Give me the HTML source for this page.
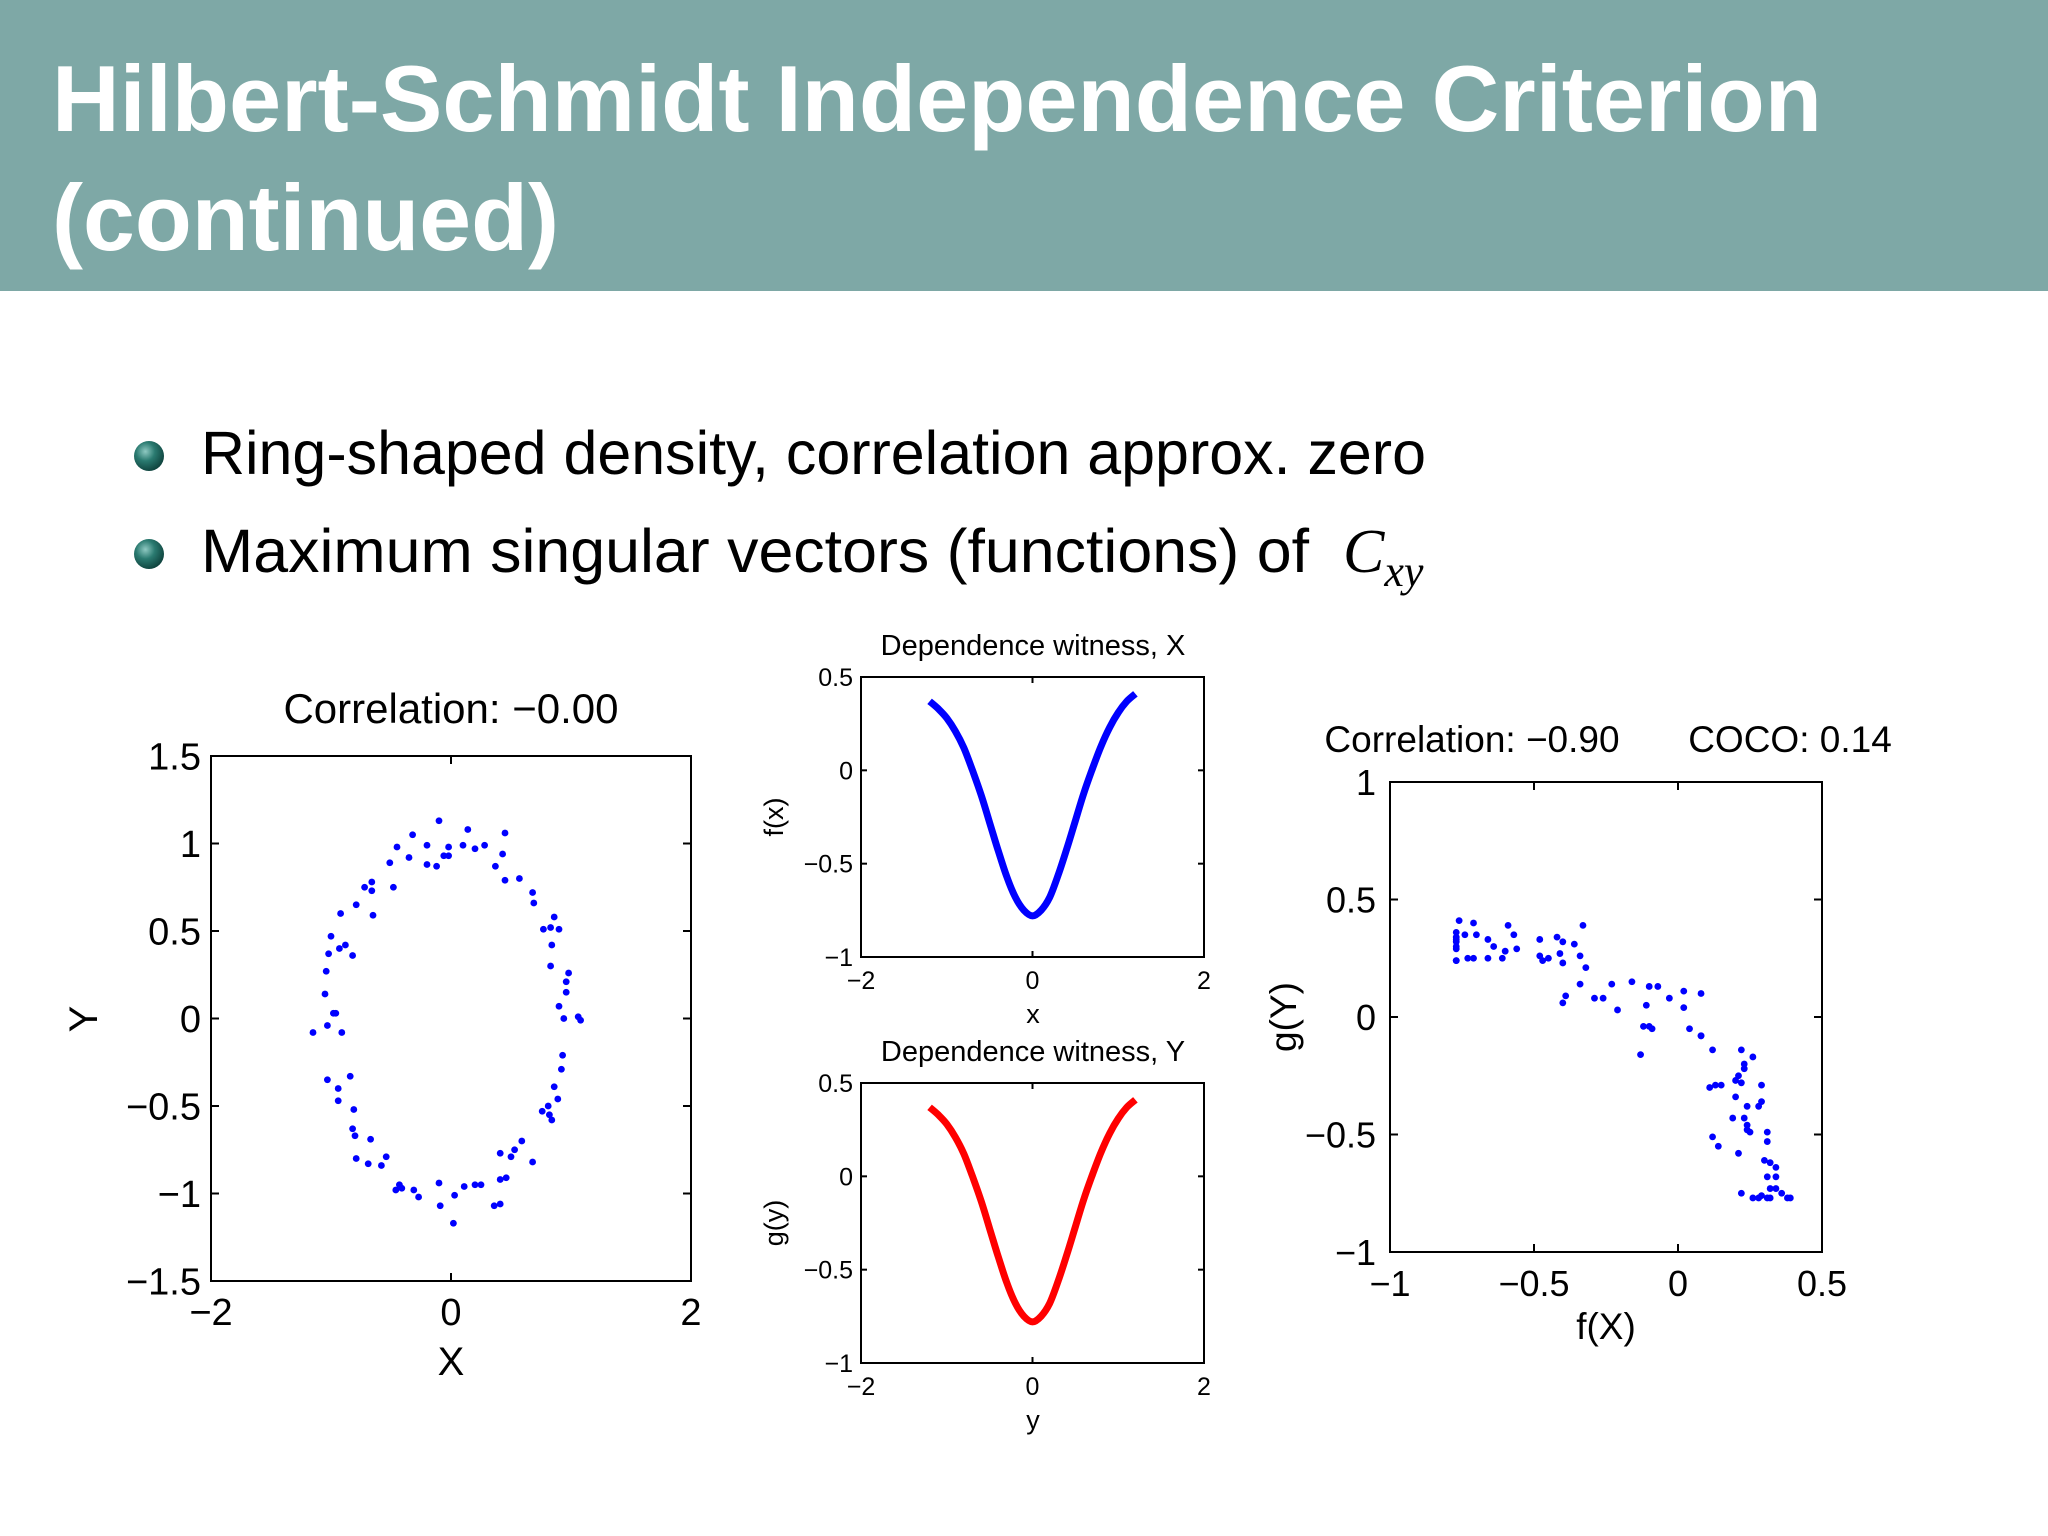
<!DOCTYPE html>
<html><head><meta charset="utf-8"><style>
html,body{margin:0;padding:0;background:#fff;}
svg{display:block;}
text{font-family:"Liberation Sans",sans-serif;}
</style></head><body>
<svg id="root" width="2048" height="1536" viewBox="0 0 2048 1536" xmlns="http://www.w3.org/2000/svg">
<defs>
<radialGradient id="ball" cx="0.38" cy="0.35" r="0.7">
<stop offset="0" stop-color="#8fc9c2"/><stop offset="0.45" stop-color="#2a7a70"/><stop offset="1" stop-color="#0d3f3a"/>
</radialGradient>
</defs>
<rect x="0" y="0" width="2048" height="291" fill="#7ea8a6"/>
<text x="52" y="131" font-size="94" font-weight="bold" fill="#fff" textLength="1770" lengthAdjust="spacingAndGlyphs">Hilbert-Schmidt Independence Criterion</text>
<text x="52" y="250" font-size="94" font-weight="bold" fill="#fff" textLength="507" lengthAdjust="spacingAndGlyphs">(continued)</text>
<circle cx="149" cy="456" r="15" fill="url(#ball)"/>
<text x="201" y="474" font-size="61" fill="#000" textLength="1225" lengthAdjust="spacingAndGlyphs">Ring-shaped density, correlation approx. zero</text>
<circle cx="149" cy="554" r="15" fill="url(#ball)"/>
<text x="201" y="572" font-size="61" fill="#000" textLength="1108" lengthAdjust="spacingAndGlyphs">Maximum singular vectors (functions) of</text>
<text x="1343" y="572" font-size="62" font-style="italic" fill="#000" style="font-family:'Liberation Serif',serif">C<tspan font-size="44" dy="14">xy</tspan></text>
<g id="charts"></g>
</svg>
<script>
// ---- data ----
const ringX = [-0.10,0.14,0.45,-0.32,-0.20,-0.45,-0.02,0.10,0.20,0.28,-0.35,-0.51,-0.20,-0.12,-0.06,-0.02,0.43,0.37,0.45,0.57,-0.72,-0.66,-0.66,-0.48,0.68,0.69,-0.79,-0.92,-0.65,0.86,0.77,0.83,0.90,-1.00,-0.93,-0.88,-1.02,-0.82,0.84,0.83,-1.04,0.98,0.96,0.96,-1.05,-0.98,-0.96,0.90,0.94,1.06,1.08,-1.15,-1.03,-0.91,0.93,0.92,-1.03,-0.84,-0.94,0.86,-0.94,0.89,-0.81,0.76,0.81,0.82,0.84,-0.82,-0.80,-0.67,0.59,0.53,0.50,0.41,-0.79,-0.69,-0.58,-0.54,0.68,-0.10,-0.43,-0.46,-0.41,-0.31,-0.27,0.11,0.20,0.25,0.41,0.46,0.03,-0.09,0.36,0.41,0.02];
const ringY = [1.13,1.08,1.06,1.05,0.99,0.98,0.98,0.99,0.97,0.99,0.92,0.89,0.88,0.87,0.93,0.93,0.94,0.87,0.79,0.80,0.75,0.78,0.73,0.75,0.72,0.66,0.65,0.60,0.59,0.58,0.51,0.52,0.51,0.47,0.40,0.42,0.37,0.36,0.42,0.30,0.27,0.26,0.21,0.15,0.14,0.03,0.03,0.07,0.00,0.01,-0.01,-0.08,-0.04,-0.08,-0.21,-0.29,-0.35,-0.33,-0.40,-0.39,-0.47,-0.46,-0.52,-0.53,-0.50,-0.55,-0.58,-0.63,-0.67,-0.69,-0.70,-0.75,-0.79,-0.77,-0.80,-0.83,-0.84,-0.79,-0.82,-0.94,-0.95,-0.98,-0.97,-0.98,-1.02,-0.96,-0.95,-0.95,-0.92,-0.91,-1.01,-1.07,-1.07,-1.06,-1.17];
const fX = [-0.76,-0.71,-0.77,-0.77,-0.77,-0.77,-0.77,-0.77,-0.77,-0.77,-0.74,-0.70,-0.73,-0.71,-0.66,-0.66,-0.64,-0.59,-0.57,-0.60,-0.61,-0.56,-0.48,-0.48,-0.47,-0.45,-0.42,-0.40,-0.41,-0.40,-0.36,-0.34,-0.33,-0.32,-0.34,-0.39,-0.40,-0.29,-0.26,-0.23,-0.21,-0.16,-0.10,-0.07,-0.11,-0.03,0.02,0.02,0.08,-0.12,-0.10,-0.09,-0.13,0.04,0.08,0.08,0.12,0.22,0.26,0.23,0.23,0.21,0.20,0.22,0.11,0.13,0.15,0.29,0.20,0.29,0.28,0.24,0.19,0.23,0.24,0.24,0.25,0.12,0.14,0.31,0.31,0.21,0.30,0.32,0.34,0.31,0.34,0.32,0.34,0.22,0.26,0.28,0.29,0.31,0.32,0.36,0.38,0.39];
const gY = [0.41,0.40,0.36,0.34,0.33,0.32,0.30,0.29,0.24,0.24,0.35,0.35,0.25,0.25,0.25,0.33,0.30,0.39,0.35,0.28,0.25,0.29,0.33,0.26,0.24,0.25,0.34,0.32,0.27,0.23,0.31,0.26,0.39,0.21,0.14,0.09,0.06,0.08,0.08,0.14,0.03,0.15,0.13,0.13,0.05,0.08,0.11,0.04,0.10,-0.04,-0.04,-0.05,-0.16,-0.05,-0.08,-0.08,-0.14,-0.14,-0.17,-0.20,-0.22,-0.25,-0.27,-0.28,-0.30,-0.29,-0.29,-0.29,-0.34,-0.36,-0.38,-0.38,-0.43,-0.43,-0.46,-0.48,-0.49,-0.51,-0.55,-0.49,-0.53,-0.58,-0.61,-0.62,-0.64,-0.68,-0.68,-0.73,-0.73,-0.75,-0.77,-0.77,-0.76,-0.77,-0.77,-0.75,-0.77,-0.77];
const witX = [-1.2,-1.1,-1.0,-0.9,-0.8,-0.7,-0.6,-0.5,-0.4,-0.3,-0.2,-0.1,0,0.1,0.2,0.3,0.4,0.5,0.6,0.7,0.8,0.9,1.0,1.1,1.2];
const witF = [0.37,0.33,0.28,0.21,0.12,0.00,-0.13,-0.28,-0.43,-0.57,-0.68,-0.75,-0.78,-0.75,-0.68,-0.56,-0.42,-0.27,-0.12,0.01,0.13,0.23,0.31,0.37,0.41];
const witG = [0.37,0.33,0.28,0.21,0.12,0.00,-0.13,-0.28,-0.43,-0.57,-0.68,-0.75,-0.78,-0.75,-0.68,-0.56,-0.42,-0.27,-0.12,0.01,0.13,0.23,0.31,0.37,0.41];
const ringXTicks = [-2,0,2];
const ringXTickLabels = ["−2","0","2"];
const ringYTicks = [-1.5,-1,-0.5,0,0.5,1,1.5];
const ringYTickLabels = ["−1.5","−1","−0.5","0","0.5","1","1.5"];
const witXTicks = [-2,0,2];
const witXTickLabels = ["−2","0","2"];
const witYTicks = [-1,-0.5,0,0.5];
const witYTickLabels = ["−1","−0.5","0","0.5"];
const fgXTicks = [-1,-0.5,0,0.5];
const fgXTickLabels = ["−1","−0.5","0","0.5"];
const fgYTicks = [-1,-0.5,0,0.5,1];
const fgYTickLabels = ["−1","−0.5","0","0.5","1"];

const NS = "http://www.w3.org/2000/svg";
const root = document.getElementById('charts');
function el(tag, attrs, parent){ const e=document.createElementNS(NS,tag); for(const k in attrs) e.setAttribute(k,attrs[k]); (parent||root).appendChild(e); return e; }

function makeAxes(cfg){
  const g = el('g',{});
  
  
  const sx = v => cfg.x0 + (v-cfg.xmin)/(cfg.xmax-cfg.xmin)*(cfg.x1-cfg.x0);
  const sy = v => cfg.y1 - (v-cfg.ymin)/(cfg.ymax-cfg.ymin)*(cfg.y1-cfg.y0);
  const box = el('rect',{x:cfg.x0,y:cfg.y0,width:cfg.x1-cfg.x0,height:cfg.y1-cfg.y0,fill:'none',stroke:'#000','stroke-width':2},g);
  
  
  const tl = cfg.tickLen;
  cfg.xticks.forEach((v,i)=>{
    const x=sx(v);
    el('line',{x1:x,y1:cfg.y1,x2:x,y2:cfg.y1-tl,stroke:'#000','stroke-width':2},g);
    el('line',{x1:x,y1:cfg.y0,x2:x,y2:cfg.y0+tl,stroke:'#000','stroke-width':2},g);
    const t=el('text',{x:x,y:cfg.y1+cfg.xtOff,'font-size':cfg.tf,'text-anchor':'middle'},g);
    t.textContent=cfg.xlabels[i];
    
    
  });
  cfg.yticks.forEach((v,i)=>{
    const y=sy(v);
    el('line',{x1:cfg.x0,y1:y,x2:cfg.x0+tl,y2:y,stroke:'#000','stroke-width':2},g);
    el('line',{x1:cfg.x1,y1:y,x2:cfg.x1-tl,y2:y,stroke:'#000','stroke-width':2},g);
    const t=el('text',{x:cfg.x0-cfg.ytOff,y:y+cfg.tf*0.36,'font-size':cfg.tf,'text-anchor':'end'},g);
    t.textContent=cfg.ylabels[i];
    
    
  });
  return {g,sx,sy};
}
function label(txt,x,y,fs,name,rot){
  const t=el('text',{x:x,y:y,'font-size':fs,'text-anchor':'middle'});
  if(rot) t.setAttribute('transform','rotate(-90 '+x+' '+y+')');
  t.textContent=txt;
  
  
}
function smoothPath(pts){
  let d='M'+pts[0][0].toFixed(1)+' '+pts[0][1].toFixed(1);
  for(let i=0;i<pts.length-1;i++){
    const p0=pts[Math.max(0,i-1)], p1=pts[i], p2=pts[i+1], p3=pts[Math.min(pts.length-1,i+2)];
    const c1x=p1[0]+(p2[0]-p0[0])/6, c1y=p1[1]+(p2[1]-p0[1])/6;
    const c2x=p2[0]-(p3[0]-p1[0])/6, c2y=p2[1]-(p3[1]-p1[1])/6;
    d+=' C'+c1x.toFixed(1)+' '+c1y.toFixed(1)+' '+c2x.toFixed(1)+' '+c2y.toFixed(1)+' '+p2[0].toFixed(1)+' '+p2[1].toFixed(1);
  }
  return d;
}

// ring plot
const A = makeAxes({name:'ring-scatter-plot',x0:211,x1:691,y0:756,y1:1281,xmin:-2,xmax:2,ymin:-1.5,ymax:1.5,xticks:ringXTicks,xlabels:ringXTickLabels,yticks:ringYTicks,ylabels:ringYTickLabels,tf:38,xtOff:44,ytOff:10,tickLen:8});
ringX.forEach((v,i)=>{
  const c=el('circle',{cx:A.sx(v),cy:A.sy(ringY[i]),r:3.4,fill:'#0000ff'},A.g);
  
  
});
label('Correlation: −0.00',451,723,42,'ring-plot-title');
label('X',451,1375,40,'x-axis-title');
label('Y',97,1019,40,'y-axis-title',true);

// witness plots
function witness(name,y0,y1,vals,color,title,xl,yl){
  const B = makeAxes({name:name,x0:861,x1:1204,y0:y0,y1:y1,xmin:-2,xmax:2,ymin:-1,ymax:0.5,xticks:witXTicks,xlabels:witXTickLabels,yticks:witYTicks,ylabels:witYTickLabels,tf:25,xtOff:32,ytOff:8,tickLen:6});
  const pts = witX.map((v,i)=>[B.sx(v),B.sy(vals[i])]);
  const p=el('path',{d:smoothPath(pts),fill:'none',stroke:color,'stroke-width':7,'stroke-linejoin':'round'},B.g);
  
  
  label(title,1033,y0-22,29,name+'-title');
  label(xl,1033,y1+66,27,name+'-x-title');
  label(yl,783,(y0+y1)/2,27,name+'-y-title',true);
}
witness('witness-x-plot',677,957,witF,'#0000ff','Dependence witness, X','x','f(x)');
witness('witness-y-plot',1083,1363,witG,'#ff0000','Dependence witness, Y','y','g(y)');

// f(X) vs g(Y)
const C = makeAxes({name:'fg-scatter-plot',x0:1390,x1:1822,y0:782,y1:1252,xmin:-1,xmax:0.5,ymin:-1,ymax:1,xticks:fgXTicks,xlabels:fgXTickLabels,yticks:fgYTicks,ylabels:fgYTickLabels,tf:36,xtOff:44,ytOff:14,tickLen:8});
fX.forEach((v,i)=>{
  const c=el('circle',{cx:C.sx(v),cy:C.sy(gY[i]),r:3.4,fill:'#0000ff'},C.g);
  
  
});
label('Correlation: −0.90',1472,752,37,'fg-correlation-title');
label('COCO: 0.14',1790,752,37,'coco-title');
label('f(X)',1606,1339,37,'fx-axis-title');
label('g(Y)',1296,1017,37,'gy-axis-title',true);
</script>
</body></html>
